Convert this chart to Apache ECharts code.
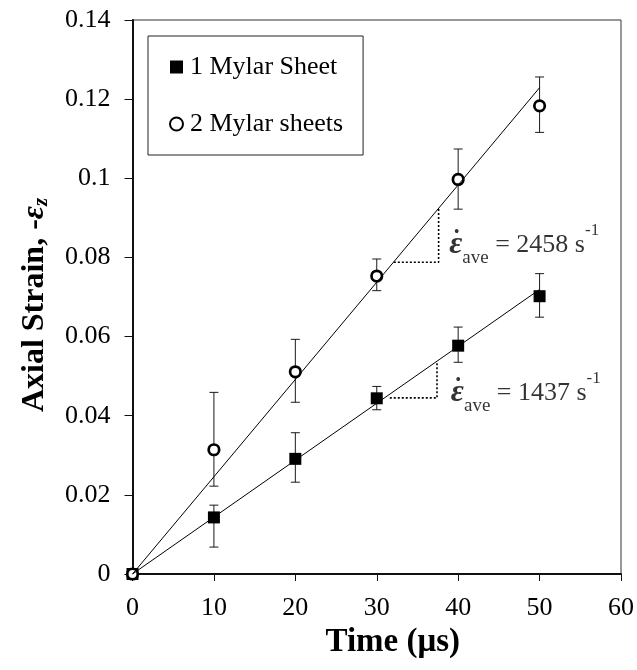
<!DOCTYPE html>
<html>
<head>
<meta charset="utf-8">
<script src="https://cdn.jsdelivr.net/npm/echarts@6/dist/echarts.min.js"></script>
<style>
html,body{margin:0;padding:0;background:#fff;}
#chart{width:637px;height:670px;}
</style>
</head>
<body>
<div id="chart"></div>
<script>
// ---- data ----
const times = [0, 10, 20, 30, 40, 50];
const strain1 = [0, 0.0143, 0.0291, 0.0444, 0.0577, 0.0702];
const err1Low = [0, 0.0068, 0.0232, 0.0415, 0.0535, 0.0649];
const err1High = [0, 0.0174, 0.0357, 0.0474, 0.0624, 0.0759];
const strain2 = [0, 0.0314, 0.0511, 0.0753, 0.0997, 0.1183];
const err2Low = [0, 0.0222, 0.0434, 0.0716, 0.0922, 0.1116];
const err2High = [0, 0.0459, 0.0593, 0.0796, 0.1074, 0.1256];
const fit1 = [[0, 0], [50, 0.0719]];
const fit2 = [[0, 0], [50, 0.1229]];
const slope1 = [[31.6, 0.0445], [37.4, 0.0445], [37.4, 0.0537]];
const slope2 = [[32.1, 0.0788], [37.6, 0.0788], [37.6, 0.0924]];
const rateValues = ['1437', '2458'];
const rateAnchors = [[39.1, 0.0458], [38.9, 0.0832]];
const seriesNames = ['1 Mylar Sheet', '2 Mylar sheets'];
const xTicks = [0, 10, 20, 30, 40, 50, 60];
const yTicks = [0, 0.02, 0.04, 0.06, 0.08, 0.1, 0.12, 0.14];

const FONT = 'Liberation Serif';

function pairs(xs, ys) { return xs.map((x, i) => [x, ys[i]]); }
function errData(xs, lo, hi) {
  return xs.map((x, i) => [x, lo[i], hi[i]]).filter(d => d[1] !== d[2]);
}
function renderErr(params, api) {
  const x = api.value(0), lo = api.value(1), hi = api.value(2);
  const a = api.coord([x, lo]), b = api.coord([x, hi]);
  const cap = 4.5;
  const st = { stroke: '#1a1a1a', lineWidth: 1 };
  return {
    type: 'group',
    children: [
      { type: 'line', shape: { x1: a[0], y1: a[1], x2: b[0], y2: b[1] }, style: st },
      { type: 'line', shape: { x1: a[0] - cap, y1: a[1], x2: a[0] + cap, y2: a[1] }, style: st },
      { type: 'line', shape: { x1: b[0] - cap, y1: b[1], x2: b[0] + cap, y2: b[1] }, style: st }
    ]
  };
}

const chart = echarts.init(document.getElementById('chart'), null, { renderer: 'canvas' });

const rateRich = {
  eps: { fontFamily: FONT, fontSize: 32, fontWeight: 'bold', fontStyle: 'italic', color: '#000', lineHeight: 46, verticalAlign: 'middle' },
  sub: { fontFamily: FONT, fontSize: 19, color: '#000', lineHeight: 17, verticalAlign: 'bottom' },
  eq: { fontFamily: FONT, fontSize: 26, color: '#000', lineHeight: 46, verticalAlign: 'middle' },
  sup: { fontFamily: FONT, fontSize: 17, color: '#000', lineHeight: 32, verticalAlign: 'top' }
};

const option = {
  animation: false,
  backgroundColor: '#fff',
  grid: {
    left: 132.5, right: 14, top: 20, bottom: 96,
    show: true, borderColor: '#333', borderWidth: 1, backgroundColor: 'transparent'
  },
  legend: {
    data: seriesNames,
    orient: 'vertical',
    left: 148, top: 36,
    borderColor: '#222', borderWidth: 1,
    padding: [18, 20, 18, 21],
    itemGap: 31,
    itemWidth: 13, itemHeight: 13,
    textStyle: { fontFamily: FONT, fontSize: 26, color: '#000', padding: [0, 0, 0, 2] },
    selectedMode: false
  },
  xAxis: {
    type: 'value', min: 0, max: 60, interval: 10,
    name: 'Time (μs)', nameLocation: 'middle', nameGap: 52,
    nameTextStyle: { fontFamily: FONT, fontSize: 33, fontWeight: 'bold', color: '#000', padding: [0, 0, 0, 32] },
    axisLine: { show: true, onZero: false, lineStyle: { color: '#111', width: 2 } },
    axisTick: { show: true, inside: false, length: 7, lineStyle: { color: '#111', width: 1 } },
    axisLabel: { fontFamily: FONT, fontSize: 26, color: '#000', margin: 21, formatter: v => xTicks.includes(v) ? String(v) : '' },
    splitLine: { show: false }
  },
  yAxis: {
    type: 'value', min: 0, max: 0.14, interval: 0.02,
    name: 'Axial Strain, -{e|ε}{z|z}', nameLocation: 'middle', nameGap: 80, nameRotate: 90,
    nameTextStyle: {
      fontFamily: FONT, fontSize: 32, fontWeight: 'bold', color: '#000', lineHeight: 36, padding: [0, 16, 0, 0],
      rich: {
        e: { fontFamily: FONT, fontSize: 32, fontWeight: 'bold', fontStyle: 'italic', color: '#000', lineHeight: 36, verticalAlign: 'middle' },
        z: { fontFamily: FONT, fontSize: 21, fontWeight: 'bold', fontStyle: 'italic', color: '#000', lineHeight: 14, verticalAlign: 'bottom' }
      }
    },
    axisLine: { show: true, onZero: false, lineStyle: { color: '#111', width: 2 } },
    axisTick: { show: true, inside: false, length: 8, lineStyle: { color: '#111', width: 1 } },
    axisLabel: { fontFamily: FONT, fontSize: 26, color: '#000', margin: 22, formatter: v => {
      const t = yTicks.find(k => Math.abs(k - v) < 1e-9);
      return t === undefined ? '' : String(+t.toFixed(2));
    } },
    splitLine: { show: false }
  },
  series: [
    { type: 'custom', name: 'err1', renderItem: renderErr, data: errData(times, err1Low, err1High), z: 2, silent: true },
    { type: 'custom', name: 'err2', renderItem: renderErr, data: errData(times, err2Low, err2High), z: 2, silent: true },
    {
      type: 'scatter', name: seriesNames[0], data: pairs(times, strain1), clip: false,
      symbol: 'rect', symbolSize: 12,
      itemStyle: { color: '#000', opacity: 1 }, z: 3
    },
    {
      type: 'scatter', name: seriesNames[1], data: pairs(times, strain2), clip: false,
      symbol: 'circle', symbolSize: 10.5,
      itemStyle: { color: '#fff', borderColor: '#000', borderWidth: 2.7, opacity: 1 }, z: 4
    },
    {
      type: 'line', name: 'fit1', data: fit1, symbol: 'none', clip: false,
      lineStyle: { color: '#000', width: 1 }, z: 5, silent: true
    },
    {
      type: 'line', name: 'fit2', data: fit2, symbol: 'none', clip: false,
      lineStyle: { color: '#000', width: 1 }, z: 5, silent: true
    },
    {
      type: 'line', name: 'slope1', data: slope1, symbol: 'none',
      lineStyle: { color: '#000', width: 1.6, type: [2, 2] }, z: 5, silent: true
    },
    {
      type: 'line', name: 'slope2', data: slope2, symbol: 'none',
      lineStyle: { color: '#000', width: 1.6, type: [2, 2] }, z: 5, silent: true
    },
    {
      type: 'scatter', name: 'rates', symbolSize: 0, silent: true, z: 6,
      data: rateAnchors.map((p, i) => ({ value: p, rate: rateValues[i] })),
      label: {
        show: true, position: 'right', distance: 0,
        formatter: p => '{eps|ε}{sub|ave}{eq| = ' + p.data.rate + ' s}{sup|-1}',
        rich: rateRich
      }
    },
    {
      type: 'scatter', name: 'rateDots', symbolSize: 0, silent: true, z: 6,
      data: rateAnchors,
      label: {
        show: true, position: 'right', distance: 0, offset: [5, -12],
        formatter: '•',
        fontFamily: FONT, fontSize: 14, fontWeight: 'bold', color: '#000'
      }
    }
  ]
};
chart.setOption(option);
</script>
</body>
</html>
